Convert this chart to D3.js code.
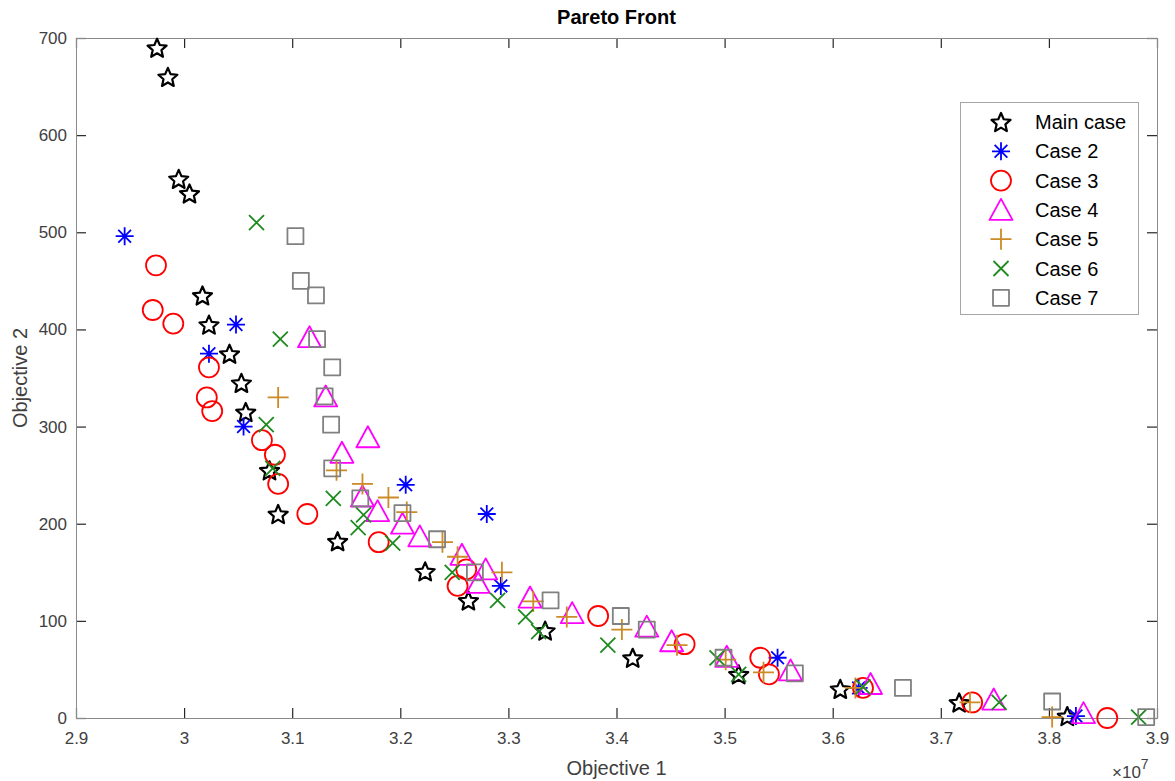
<!DOCTYPE html>
<html>
<head>
<meta charset="utf-8">
<script src="https://cdn.jsdelivr.net/npm/d3@7"></script>
<style>
  body { margin: 0; background: #fff; }
  svg text { font-family: "Liberation Sans", Arial, sans-serif; }
</style>
</head>
<body>
<div id="chart"></div>
<script>
// series names, shapes, colours
var seriesNames = ["Main case", "Case 2", "Case 3", "Case 4", "Case 5", "Case 6", "Case 7"];
var seriesShapes = ["star", "asterisk", "circle", "triangle", "plus", "cross", "square"];
var seriesColors = ["#000000", "#0000ff", "#ff0000", "#ff00ff", "#cc8b26", "#1f8a1f", "#808080"];

// x in units of 1e7, y = objective 2
var mainCase = [[2.975,690],[2.985,660],[2.995,555],[3.005,540],[3.017,435],[3.023,405],[3.042,375],
  [3.053,345],[3.057,315],[3.079,255],[3.087,210],[3.142,182],[3.223,151],[3.263,121],[3.334,90],
  [3.415,62],[3.513,45],[3.607,30],[3.717,16],[3.817,2]];
var case2 = [[2.945,496],[3.048,405],[3.023,375],[3.055,300],[3.205,240],[3.280,210],[3.293,136],
  [3.549,62],[3.624,31],[3.825,2]];
var case3 = [[2.974,466],[2.971,420],[2.990,406],[3.023,361],[3.021,330],[3.026,316],[3.072,286],
  [3.084,271],[3.087,241],[3.114,210],[3.180,181],[3.253,136],[3.261,153],[3.383,105],[3.463,76],
  [3.533,62],[3.541,45],[3.628,31],[3.729,16],[3.854,0]];
var case4 = [[3.116,392],[3.131,331],[3.170,289],[3.146,273],[3.165,228],[3.179,213],[3.202,200],
  [3.218,187],[3.257,168],[3.279,153],[3.272,139],[3.320,124],[3.359,108],[3.428,94],[3.451,79],
  [3.502,63],[3.561,49],[3.635,35],[3.749,19],[3.832,5]];
var case5 = [[3.087,330],[3.141,255],[3.165,241],[3.189,227],[3.206,212],[3.239,181],[3.253,166],
  [3.294,150],[3.323,120],[3.354,104],[3.405,91],[3.456,75],[3.501,60],[3.536,47],[3.621,31],
  [3.727,16],[3.803,1]];
var case6 = [[3.067,510],[3.089,390],[3.076,302],[3.082,257],[3.138,226],[3.166,209],[3.161,196],
  [3.193,180],[3.248,150],[3.290,121],[3.316,104],[3.328,89],[3.392,75],[3.493,62],[3.513,45],
  [3.628,32],[3.754,16],[3.883,1]];
var case7 = [[3.103,496],[3.108,450],[3.122,435],[3.123,390],[3.137,361],[3.130,331],[3.136,302],
  [3.137,257],[3.163,226],[3.202,211],[3.234,184],[3.269,150],[3.339,121],[3.404,105],[3.428,91],
  [3.499,62],[3.565,46],[3.665,31],[3.803,17],[3.890,1]];
var seriesData = [mainCase, case2, case3, case4, case5, case6, case7];

var xTicks = [2.9, 3, 3.1, 3.2, 3.3, 3.4, 3.5, 3.6, 3.7, 3.8, 3.9];
var yTicks = [0, 100, 200, 300, 400, 500, 600, 700];

var W = 1175, H = 781;
var plot = { left: 76, right: 1157, top: 38, bottom: 718 };

var svg = d3.select("#chart").append("svg")
    .attr("width", W)
    .attr("height", H);

var x = d3.scaleLinear().domain([2.9, 3.9]).range([plot.left, plot.right]);
var y = d3.scaleLinear().domain([0, 700]).range([plot.bottom, plot.top]);

// marker path builders (relative to 0,0)
function markerPath(shape) {
    var p = d3.path();
    if (shape == "star") {
        // pentagram, slightly fat like matlab's
        var R = 10, r = 4.6;
        for (var k = 0; k < 10; k++) {
            var a = -Math.PI / 2 + k * Math.PI / 5;
            var rr = k % 2 == 0 ? R : r;
            if (k == 0) p.moveTo(rr * Math.cos(a), rr * Math.sin(a) + 1);
            else p.lineTo(rr * Math.cos(a), rr * Math.sin(a) + 1);
        }
        p.closePath();
    } else if (shape == "asterisk") {
        var r2 = 9, dd = r2 * 0.7071;
        p.moveTo(-r2, 0); p.lineTo(r2, 0);
        p.moveTo(0, -r2); p.lineTo(0, r2);
        p.moveTo(-dd, -dd); p.lineTo(dd, dd);
        p.moveTo(-dd, dd); p.lineTo(dd, -dd);
    } else if (shape == "circle") {
        p.arc(0, 0, 10, 0, 2 * Math.PI);
        p.closePath();
    } else if (shape == "triangle") {
        p.moveTo(0, -11); p.lineTo(11.5, 10); p.lineTo(-11.5, 10); p.closePath();
    } else if (shape == "plus") {
        p.moveTo(-10.5, 0); p.lineTo(10.5, 0);
        p.moveTo(0, -10.5); p.lineTo(0, 10.5);
    } else if (shape == "cross") {
        p.moveTo(-7.5, -7.5); p.lineTo(7.5, 7.5);
        p.moveTo(-7.5, 7.5); p.lineTo(7.5, -7.5);
    } else if (shape == "square") {
        p.rect(-8, -8, 16, 16);
    }
    return p.toString();
}

function markerWidth(shape) {
    return shape == "star" ? 2.2 : 1.8;
}

// axes (ticks point inward, box on)
var tickColor = "#262626", lineColor = "#8a8a8a", labelColor = "#404040";

function styleAxis(g) {
    g.select(".domain").remove();
    g.selectAll(".tick line").attr("stroke", tickColor).attr("stroke-width", 1.2);
    g.selectAll(".tick text").attr("fill", labelColor).attr("font-size", 17)
        .attr("font-family", "Liberation Sans, Arial, sans-serif");
}

svg.append("g")
    .attr("transform", "translate(0," + plot.bottom + ")")
    .call(d3.axisBottom(x).tickValues(xTicks).tickSize(-10).tickPadding(14)
        .tickFormat(function (d) { return +d.toFixed(1) + ""; }))
    .call(styleAxis);

svg.append("g")
    .attr("transform", "translate(0," + plot.top + ")")
    .call(d3.axisTop(x).tickValues(xTicks).tickSize(-10).tickFormat(""))
    .call(styleAxis);

svg.append("g")
    .attr("transform", "translate(" + plot.left + ",0)")
    .call(d3.axisLeft(y).tickValues(yTicks).tickSize(-10).tickPadding(9))
    .call(styleAxis);

svg.append("g")
    .attr("transform", "translate(" + plot.right + ",0)")
    .call(d3.axisRight(y).tickValues(yTicks).tickSize(-10).tickFormat(""))
    .call(styleAxis);

// box
svg.append("rect")
    .attr("x", plot.left + 0.5)
    .attr("y", plot.top + 0.5)
    .attr("width", plot.right - plot.left)
    .attr("height", plot.bottom - plot.top)
    .attr("fill", "none")
    .attr("stroke", lineColor)
    .attr("stroke-width", 1);

// points
seriesData.forEach(function (data, i) {
    svg.append("g")
        .selectAll("path")
        .data(data)
        .enter()
        .append("path")
        .attr("transform", function (d) { return "translate(" + x(d[0]) + "," + y(d[1]) + ")"; })
        .attr("d", markerPath(seriesShapes[i]))
        .attr("fill", "none")
        .attr("stroke", seriesColors[i])
        .attr("stroke-width", markerWidth(seriesShapes[i]))
        .attr("stroke-linejoin", "round");
});

// title and axis labels
svg.append("text")
    .attr("x", (plot.left + plot.right) / 2)
    .attr("y", 24)
    .attr("text-anchor", "middle")
    .attr("font-weight", "bold")
    .attr("font-size", 20)
    .attr("fill", "#000")
    .text("Pareto Front");

svg.append("text")
    .attr("x", (plot.left + plot.right) / 2)
    .attr("y", 775)
    .attr("text-anchor", "middle")
    .attr("font-size", 20)
    .attr("fill", labelColor)
    .text("Objective 1");

svg.append("text")
    .attr("transform", "translate(27," + ((plot.top + plot.bottom) / 2) + ") rotate(-90)")
    .attr("text-anchor", "middle")
    .attr("font-size", 20)
    .attr("fill", labelColor)
    .text("Objective 2");

// x10^7 exponent
var expo = svg.append("text")
    .attr("x", 1112)
    .attr("y", 778)
    .attr("font-size", 17)
    .attr("fill", labelColor);
expo.append("tspan").text("\u00d710");
expo.append("tspan").attr("dy", -9).attr("font-size", 14).text("7");

// legend
var legendX = 960, legendY = 102, legendW = 178, legendH = 212;
var legend = svg.append("g");
legend.append("rect")
    .attr("x", legendX + 0.5)
    .attr("y", legendY + 0.5)
    .attr("width", legendW)
    .attr("height", legendH)
    .attr("fill", "#fff")
    .attr("stroke", "#a6a6a6");

var item = legend.selectAll(".legend")
    .data(seriesNames)
    .enter()
    .append("g")
    .attr("class", "legend")
    .attr("transform", function (d, i) {
        return "translate(" + (legendX + 41) + "," + (legendY + 20 + i * 29.3) + ")";
    });
item.append("path")
    .attr("d", function (d, i) { return markerPath(seriesShapes[i]); })
    .attr("fill", "none")
    .attr("stroke", function (d, i) { return seriesColors[i]; })
    .attr("stroke-width", function (d, i) { return markerWidth(seriesShapes[i]); })
    .attr("stroke-linejoin", "round");
item.append("text")
    .attr("x", 34)
    .attr("y", 7)
    .attr("font-size", 20)
    .attr("fill", "#000")
    .text(function (d) { return d; });
</script>
</body>
</html>
